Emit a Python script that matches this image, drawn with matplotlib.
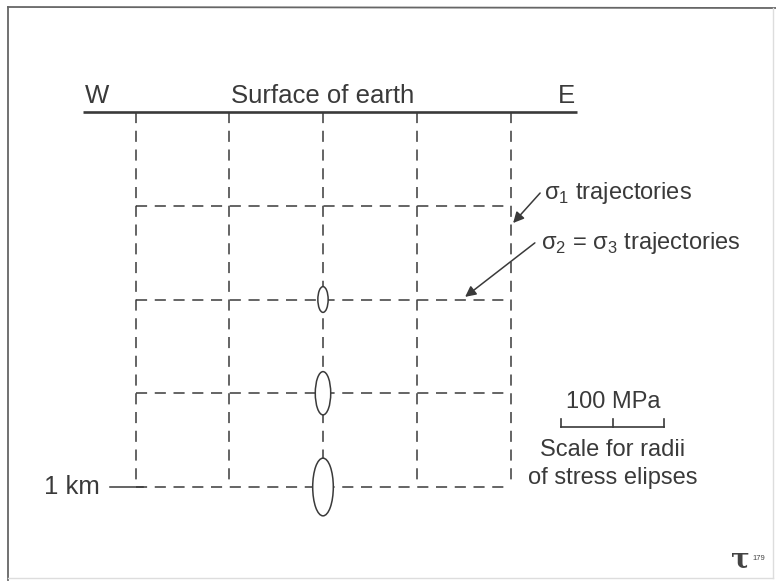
import matplotlib.pyplot as plt
from matplotlib.patches import Ellipse
from matplotlib.lines import Line2D

plt.rcParams['font.family'] = ['Liberation Sans', 'DejaVu Sans']
plt.rcParams['mathtext.fontset'] = 'custom'
plt.rcParams['mathtext.rm'] = 'Liberation Sans'
plt.rcParams['lines.scale_dashes'] = False

# positions of sigma1 trajectories (km, relative to centre) and depths of sigma2=sigma3 trajectories (km)
x_traj = [-0.5, -0.25, 0.0, 0.25, 0.5]
depths = [0.25, 0.5, 0.75, 1.0]

# stress ellipses along the centre line (depth km, radii MPa)
ell_depth = [0.5, 0.75, 1.0]
sigma1_mpa = [12.5, 21.0, 28.0]   # vertical radius
sigma3_mpa = [5.0, 7.5, 10.0]     # horizontal radius

scale_mpa = 100
km_per_mpa = 0.2747 / 100   # drawing scale for the radii

ink = '#3a3a3a'
dash = (0, (8, 5.5))

fig = plt.figure(figsize=(7.76, 5.81), dpi=100)
ax = fig.add_axes([0, 0, 1, 1])
px = 375.0  # pixels per km
ax.set_xlim(-323 / px, (776 - 323) / px)
ax.set_ylim((581 - 112) / px, -112 / px)
ax.axis('off')

# frame of the slide (top/left dark, right/bottom faint as in the scan)
W, H = 776.0, 581.0
fig.lines.append(Line2D([8 / W, 1.0], [1 - 7 / H, 1 - 8 / H], transform=fig.transFigure,
                        color='#666666', lw=1.3))
fig.lines.append(Line2D([8 / W, 8 / W], [1 - 7 / H, 1 - 580 / H], transform=fig.transFigure,
                        color='#666666', lw=1.3))
fig.lines.append(Line2D([773 / W, 773 / W], [1 - 8 / H, 1 - 578 / H], transform=fig.transFigure,
                        color='#dddddd', lw=1.0))
fig.lines.append(Line2D([8 / W, 773 / W], [1 - 578 / H, 1 - 578 / H], transform=fig.transFigure,
                        color='#dddddd', lw=1.0))

# surface of earth
ax.plot([-0.64, 0.677], [0, 0], color=ink, lw=1.9, solid_capstyle='butt')
ax.text(-0.635, -0.025, 'W', ha='left', va='baseline', fontsize=18.5, color=ink)
ax.text(0.0, -0.025, 'Surface of earth', ha='center', va='baseline', fontsize=18.5, color=ink)
ax.text(0.672, -0.025, 'E', ha='right', va='baseline', fontsize=18.5, color=ink)

# sigma1 trajectories (vertical)
for x in x_traj:
    ax.plot([x, x], [0, depths[-1]], color=ink, lw=1.1, linestyle=dash)

# sigma2 = sigma3 trajectories (horizontal)
for d in depths:
    ax.plot([x_traj[0], x_traj[-1]], [d, d], color=ink, lw=1.1, linestyle=dash)

# 1 km marker
ax.plot([-0.568, x_traj[0] + 0.02], [1.0, 1.0], color=ink, lw=1.1)
ax.text(-0.595, 1.0, '1 km', ha='right', va='center', fontsize=18.5, color=ink)

# stress ellipses
for d, s1, s3 in zip(ell_depth, sigma1_mpa, sigma3_mpa):
    ax.add_patch(Ellipse((0.0, d), 2 * s3 * km_per_mpa, 2 * s1 * km_per_mpa,
                         fc='white', ec=ink, lw=1.1, zorder=3))

# labels with arrows
ax.annotate('', xy=(0.507, 0.296), xytext=(0.579, 0.216),
            arrowprops=dict(arrowstyle='-|>', color=ink, lw=1.1,
                            mutation_scale=16, shrinkA=0, shrinkB=0))
ax.text(0.588, 0.216, 'σ$_\\mathrm{1}$ trajectories', ha='left', va='center',
        fontsize=17, color=ink)
ax.annotate('', xy=(0.379, 0.493), xytext=(0.565, 0.349),
            arrowprops=dict(arrowstyle='-|>', color=ink, lw=1.1,
                            mutation_scale=16, shrinkA=0, shrinkB=0))
ax.text(0.582, 0.35, 'σ$_\\mathrm{2}$ = σ$_\\mathrm{3}$ trajectories', ha='left', va='center',
        fontsize=17, color=ink)

# scale bar for radii
sx, sy = 0.773, 0.84
half = scale_mpa * km_per_mpa / 2
ax.plot([sx - half, sx + half], [sy, sy], color=ink, lw=1.2)
for t in [sx - half, sx, sx + half]:
    ax.plot([t, t], [sy, sy - 0.022], color=ink, lw=1.2)
ax.text(sx, sy - 0.05, '100 MPa', ha='center', va='baseline', fontsize=17, color=ink)
ax.text(sx, 0.901, 'Scale for radii', ha='center', va='center', fontsize=17, color=ink)
ax.text(sx, 0.976, 'of stress elipses', ha='center', va='center', fontsize=17, color=ink)

# logo
fig.text(750 / W, 1 - 560 / H, 'τ', ha='right', va='center', fontsize=20,
         fontweight='bold', color='#444444', family='DejaVu Serif')
fig.text(752 / W, 1 - 559 / H, '179', ha='left', va='center', fontsize=5.5,
         color='#444444')

fig.savefig('out.png', dpi=100)
